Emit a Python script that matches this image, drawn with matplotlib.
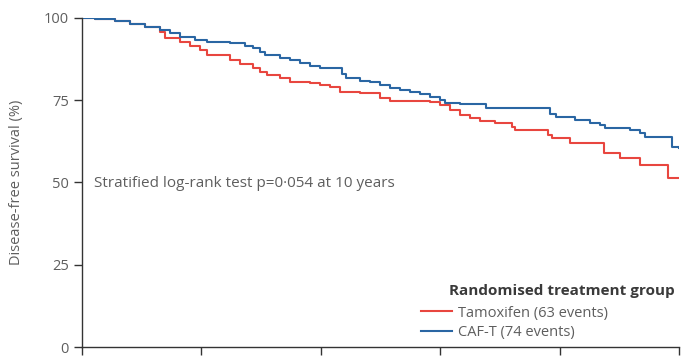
import matplotlib.pyplot as plt

# Kaplan-Meier step data (years, % disease-free)
tam_years = [0.0, 0.22, 0.55, 0.80, 1.06, 1.31, 1.39, 1.64, 1.81, 1.98, 2.09, 2.48,
             2.65, 2.86, 2.98, 3.10, 3.32, 3.48, 3.82, 3.99, 4.15, 4.32, 4.66, 4.99,
             5.16, 5.83, 6.00, 6.16, 6.33, 6.50, 6.67, 6.92, 7.20, 7.25, 7.81, 7.87,
             8.17, 8.74, 9.01, 9.35, 9.82, 10.0]
tam_surv = [100.0, 99.7, 99.2, 98.2, 97.3, 95.8, 93.9, 92.7, 91.5, 90.3, 88.8, 87.2,
            86.0, 84.8, 83.6, 82.7, 81.8, 80.5, 80.2, 79.5, 79.0, 77.5, 77.2, 75.7,
            74.8, 74.5, 73.6, 72.0, 70.5, 69.6, 68.7, 68.0, 67.0, 66.0, 64.5, 63.5,
            62.0, 59.0, 57.4, 55.3, 51.4, 51.4]

caf_years = [0.0, 0.22, 0.55, 0.80, 1.06, 1.31, 1.47, 1.64, 1.89, 2.09, 2.48, 2.73,
             2.86, 2.98, 3.07, 3.32, 3.48, 3.65, 3.82, 3.99, 4.36, 4.42, 4.66, 4.82,
             4.99, 5.16, 5.33, 5.49, 5.66, 5.83, 6.00, 6.08, 6.33, 6.77, 7.84, 7.94,
             8.26, 8.51, 8.68, 8.76, 9.18, 9.35, 9.43, 9.88, 10.0]
caf_surv = [100.0, 99.7, 99.2, 98.2, 97.3, 96.4, 95.5, 94.2, 93.3, 92.7, 92.4, 91.5,
            90.9, 89.8, 88.8, 87.8, 87.2, 86.3, 85.5, 84.8, 83.0, 81.8, 81.0, 80.5,
            79.5, 78.7, 78.0, 77.5, 76.8, 76.0, 75.1, 74.2, 73.9, 72.6, 70.8, 69.9,
            69.0, 68.1, 67.4, 66.6, 66.0, 65.0, 63.8, 60.8, 60.5]

group_labels = ["Tamoxifen (63 events)", "CAF-T (74 events)"]
y_ticks = [0, 25, 50, 75, 100]
x_ticks = [0, 2, 4, 6, 8, 10]

plt.rcParams['font.family'] = ['Open Sans', 'DejaVu Sans']

red = '#e8463f'
blue = '#2a66a3'
grey = '#5e5e5e'
fs = 10.5

fig = plt.figure(figsize=(6.83, 3.57), dpi=100)
ax = fig.add_axes([0.1201, 0.028, 0.8740, 0.9216])

ax.step(tam_years, tam_surv, where='post', color=red, lw=1.5, label=group_labels[0])
ax.step(caf_years, caf_surv, where='post', color=blue, lw=1.5, label=group_labels[1])

ax.set_xlim(0, 10)
ax.set_ylim(0, 100)
ax.set_yticks(y_ticks)
ax.set_xticks(x_ticks)
ax.spines['top'].set_visible(False)
ax.spines['right'].set_visible(False)
for s in ('left', 'bottom'):
    ax.spines[s].set_color('#333333')
    ax.spines[s].set_linewidth(1.0)
ax.tick_params(length=6, width=1.0, color='#333333', labelsize=fs, labelcolor=grey)
# x tick labels fall below the cropped image in the reference
ax.tick_params(axis='x', labelbottom=False)
ax.set_ylabel('Disease-free survival (%)', fontsize=fs, color=grey, labelpad=14)

ax.text(0.2, 49.8, 'Stratified log-rank test p=0\u00b7054 at 10 years',
        fontsize=11, color=grey, va='center', ha='left')

ax.text(9.93, 17.0, 'Randomised treatment group', fontsize=11, fontweight='bold',
        color='#3a3a3a', ha='right', va='center')
ax.legend(loc='upper left', bbox_to_anchor=(0.556, 0.148), frameon=False,
          fontsize=fs, labelcolor=grey, handlelength=2.1, handletextpad=0.4,
          borderpad=0, labelspacing=0.3)

fig.savefig('out.png', dpi=100)
